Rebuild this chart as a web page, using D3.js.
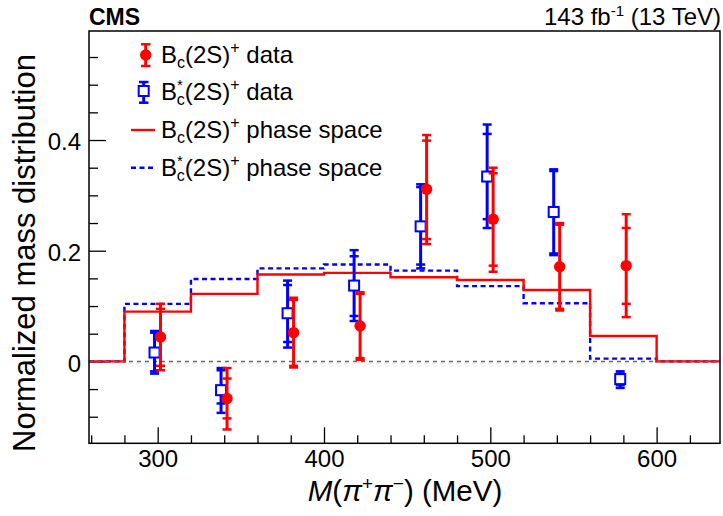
<!DOCTYPE html>
<html>
<head>
<meta charset="utf-8">
<script src="https://cdn.jsdelivr.net/npm/d3@7"></script>
<style>
  body { margin: 0; background: #fff; }
  text { font-family: "Liberation Sans", Arial, Helvetica, sans-serif; fill: #000; }
</style>
</head>
<body>
<svg id="chart" width="723" height="516"></svg>
<script>
// bins of the phase-space histograms
var binEdges = [280, 320, 360, 400, 440, 480, 520, 560, 600];
var redPhase = [0.090, 0.122, 0.157, 0.160, 0.152, 0.147, 0.129, 0.046];
var bluePhase = [0.104, 0.149, 0.168, 0.175, 0.164, 0.136, 0.105, 0.005];

// data points (bin centres)
var massPoints = [300, 340, 380, 420, 460, 500, 540, 580];
var redData = [0.044, -0.067, 0.052, 0.064, 0.311, 0.257, 0.171, 0.173];
var redStatHi = [0.095, -0.031, 0.111, 0.122, 0.399, 0.340, 0.247, 0.241];
var redStatLo = [-0.008, -0.103, -0.008, 0.006, 0.221, 0.173, 0.095, 0.104];
var redTotHi = [0.104, -0.012, 0.115, 0.125, 0.409, 0.350, 0.250, 0.266];
var redTotLo = [-0.016, -0.123, -0.011, 0.003, 0.212, 0.162, 0.092, 0.080];
var blueData = [0.016, -0.052, 0.087, 0.137, 0.244, 0.334, 0.270, -0.032];
var blueStatHi = [0.052, -0.016, 0.138, 0.190, 0.315, 0.411, 0.344, -0.022];
var blueStatLo = [-0.018, -0.076, 0.035, 0.082, 0.175, 0.257, 0.195, -0.043];
var blueTotHi = [0.055, -0.012, 0.146, 0.201, 0.320, 0.428, 0.347, -0.018];
var blueTotLo = [-0.022, -0.093, 0.025, 0.073, 0.168, 0.241, 0.192, -0.048];

var xMajor = [300, 400, 500, 600];
var yMajor = [0, 0.2, 0.4];

var svg = d3.select("#chart");
var frameL = 89, frameR = 720, frameT = 31, frameB = 443.3;

var x = d3.scaleLinear().domain([258.7, 638.1]).range([frameL, frameR]);
var y = d3.scaleLinear().domain([-0.148, 0.597]).range([frameB, frameT]);

var red = "#ff0000", blue = "#0000ff";

// minor ticks
var xMinor = d3.range(260, 640, 20).filter(function(d) { return xMajor.indexOf(d) < 0; });
var yMinor = d3.range(-0.1, 0.6, 0.05).map(function(d) { return +d.toFixed(2); })
  .filter(function(d) { return yMajor.indexOf(d) < 0 && d > -0.148 && d < 0.597; });

svg.append("g")
  .attr("transform", "translate(0," + frameB + ")")
  .call(d3.axisBottom(x).tickValues(xMinor).tickSize(-8).tickFormat(""))
  .call(function(g) { g.select(".domain").remove(); });

svg.append("g")
  .attr("transform", "translate(0," + frameB + ")")
  .call(d3.axisBottom(x).tickValues(xMajor).tickSize(-16).tickPadding(6.5))
  .call(function(g) {
    g.select(".domain").remove();
    g.selectAll("text").style("font-size", "24px");
  });

svg.append("g")
  .attr("transform", "translate(" + frameL + ",0)")
  .call(d3.axisLeft(y).tickValues(yMinor).tickSize(-9).tickFormat(""))
  .call(function(g) { g.select(".domain").remove(); });

svg.append("g")
  .attr("transform", "translate(" + frameL + ",0)")
  .call(d3.axisLeft(y).tickValues(yMajor).tickSize(-17).tickPadding(8)
    .tickFormat(function(d) { return d === 0 ? "0" : d.toFixed(1); }))
  .call(function(g) {
    g.select(".domain").remove();
    g.selectAll("text").style("font-size", "24px").attr("dy", "0.4em");
  });

svg.selectAll(".tick line").attr("stroke", "#000").attr("stroke-width", 1.3);
svg.selectAll(".tick text").attr("font-family", null);

// step histograms
function stepPoints(vals) {
  var pts = [[x.domain()[0], 0], [binEdges[0], 0]];
  vals.forEach(function(v, i) { pts.push([binEdges[i], v]); });
  pts.push([binEdges[binEdges.length - 1], 0]);
  pts.push([x.domain()[1], 0]);
  return pts;
}
var step = d3.line()
  .x(function(d) { return x(d[0]); })
  .y(function(d) { return y(d[1]); })
  .curve(d3.curveStepAfter);

svg.append("path")
  .attr("d", step(stepPoints(bluePhase)))
  .attr("fill", "none").attr("stroke", blue)
  .attr("stroke-width", 2.4).attr("stroke-dasharray", "5,3.5");

svg.append("path")
  .attr("d", step(stepPoints(redPhase)))
  .attr("fill", "none").attr("stroke", red).attr("stroke-width", 2.4);

// zero line
svg.append("line")
  .attr("x1", frameL).attr("x2", frameR)
  .attr("y1", y(0)).attr("y2", y(0))
  .attr("stroke", "#666").attr("stroke-width", 1.5)
  .attr("stroke-dasharray", "4,4");

// error bars: total error with caps at both stat and total ends
function errorBars(offset, sHi, sLo, tHi, tLo, color) {
  var g = svg.append("g").attr("stroke", color).attr("stroke-width", 3);
  massPoints.forEach(function(m, i) {
    var cx = x(m + offset);
    g.append("line").attr("x1", cx).attr("x2", cx)
      .attr("y1", y(tLo[i])).attr("y2", y(tHi[i]));
    [sHi[i], sLo[i], tHi[i], tLo[i]].forEach(function(v) {
      g.append("line").attr("x1", cx - 4.5).attr("x2", cx + 4.5)
        .attr("y1", y(v)).attr("y2", y(v)).attr("stroke-width", 2.5);
    });
  });
}

errorBars(-1.9, blueStatHi, blueStatLo, blueTotHi, blueTotLo, blue);
svg.append("g").selectAll("rect")
  .data(blueData)
  .enter()
  .append("rect")
  .attr("x", function(d, i) { return x(massPoints[i] - 1.9) - 5; })
  .attr("y", function(d) { return y(d) - 5; })
  .attr("width", 10).attr("height", 10)
  .attr("fill", "#fff").attr("stroke", blue).attr("stroke-width", 2);

errorBars(1.7, redStatHi, redStatLo, redTotHi, redTotLo, red);
svg.append("g").selectAll("circle")
  .data(redData)
  .enter()
  .append("circle")
  .attr("cx", function(d, i) { return x(massPoints[i] + 1.7); })
  .attr("cy", function(d) { return y(d); })
  .attr("r", 5.7).attr("fill", red);

// frame
svg.append("rect")
  .attr("x", frameL).attr("y", frameT)
  .attr("width", frameR - frameL).attr("height", frameB - frameT)
  .attr("fill", "none").attr("stroke", "#000").attr("stroke-width", 1.5);

// legend
function bLabel(t, star, rest) {
  t.append("tspan").text("B");
  if (star) {
    t.append("tspan").text("*").style("font-size", "15px").attr("dy", -10);
    t.append("tspan").text("c").style("font-size", "16px").attr("dx", -6).attr("dy", 15);
  } else {
    t.append("tspan").text("c").style("font-size", "16px").attr("dy", 5);
  }
  t.append("tspan").text("(2S)").attr("dy", -5);
  t.append("tspan").text("+").style("font-size", "16px").attr("dy", -10);
  t.append("tspan").text(" " + rest).attr("dy", 10);
}

var legendRows = [
  { y: 63, star: false, rest: "data" },
  { y: 100, star: true, rest: "data" },
  { y: 138, star: false, rest: "phase space" },
  { y: 176, star: true, rest: "phase space" }
];
legendRows.forEach(function(r) {
  var t = svg.append("text").attr("x", 161).attr("y", r.y).style("font-size", "24px");
  bLabel(t, r.star, r.rest);
});

// legend symbols
var lg = svg.append("g");
lg.append("line").attr("x1", 145.7).attr("x2", 145.7).attr("y1", 44.3).attr("y2", 66)
  .attr("stroke", red).attr("stroke-width", 3);
[44.3, 66].forEach(function(v) {
  lg.append("line").attr("x1", 141).attr("x2", 150.5).attr("y1", v).attr("y2", v)
    .attr("stroke", red).attr("stroke-width", 2.5);
});
lg.append("circle").attr("cx", 145.7).attr("cy", 55).attr("r", 5.7).attr("fill", red);

lg.append("line").attr("x1", 143.7).attr("x2", 143.7).attr("y1", 82).attr("y2", 102.7)
  .attr("stroke", blue).attr("stroke-width", 3);
[82, 102.7].forEach(function(v) {
  lg.append("line").attr("x1", 139).attr("x2", 148.5).attr("y1", v).attr("y2", v)
    .attr("stroke", blue).attr("stroke-width", 2.5);
});
lg.append("rect").attr("x", 138.7).attr("y", 86).attr("width", 10).attr("height", 10)
  .attr("fill", "#fff").attr("stroke", blue).attr("stroke-width", 2);

lg.append("line").attr("x1", 131).attr("x2", 155).attr("y1", 130).attr("y2", 130)
  .attr("stroke", red).attr("stroke-width", 2.4);
lg.append("line").attr("x1", 131).attr("x2", 155).attr("y1", 167.7).attr("y2", 167.7)
  .attr("stroke", blue).attr("stroke-width", 2.4).attr("stroke-dasharray", "5,3.5");

// header
svg.append("text").attr("x", 89).attr("y", 24.5)
  .style("font-size", "23px").style("font-weight", "bold").text("CMS");

var lumi = svg.append("text").attr("x", 721).attr("y", 24.5)
  .attr("text-anchor", "end").style("font-size", "24px");
lumi.append("tspan").text("143 fb");
lumi.append("tspan").text("-1").style("font-size", "15px").attr("dy", -9);
lumi.append("tspan").text(" (13 TeV)").attr("dy", 9);

// axis titles
var xt = svg.append("text").attr("x", 405).attr("y", 501)
  .attr("text-anchor", "middle").style("font-size", "29.5px");
xt.append("tspan").text("M").style("font-style", "italic");
xt.append("tspan").text("(");
xt.append("tspan").text("π").style("font-style", "italic");
xt.append("tspan").text("+").style("font-size", "19px").attr("dy", -11);
xt.append("tspan").text("π").style("font-style", "italic").attr("dy", 11);
xt.append("tspan").text("−").style("font-size", "19px").attr("dy", -11);
xt.append("tspan").text(") (MeV)").attr("dy", 11);

svg.append("text")
  .attr("transform", "translate(35,253) rotate(-90)")
  .attr("text-anchor", "middle").style("font-size", "31px")
  .text("Normalized mass distribution");
</script>
</body>
</html>
